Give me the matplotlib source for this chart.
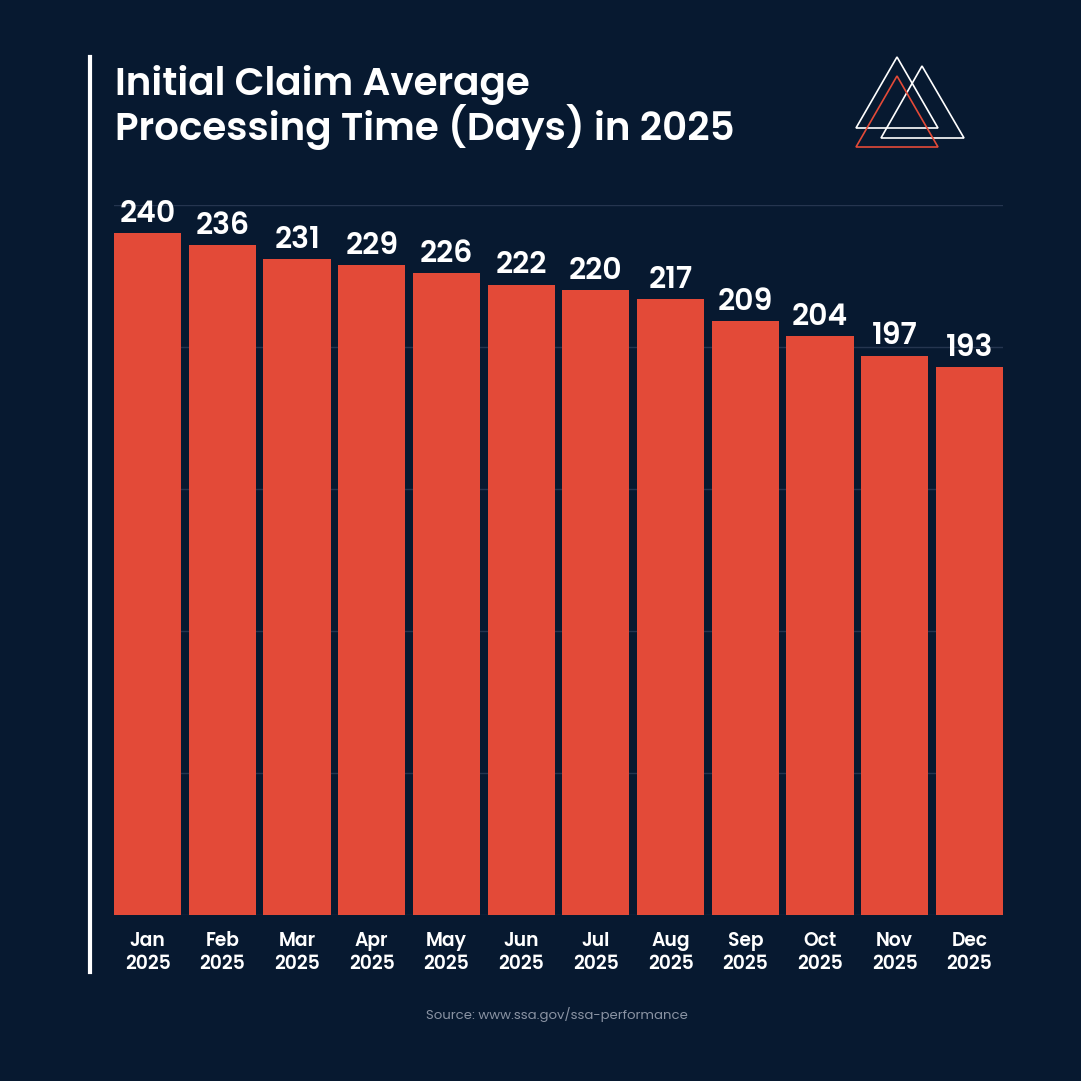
import matplotlib.pyplot as plt
from matplotlib.lines import Line2D
from matplotlib.patches import Polygon

months = ['Jan', 'Feb', 'Mar', 'Apr', 'May', 'Jun', 'Jul', 'Aug', 'Sep', 'Oct', 'Nov', 'Dec']
year = '2025'
days = [240, 236, 231, 229, 226, 222, 220, 217, 209, 204, 197, 193]
yticks = [0, 50, 100, 150, 200, 250]

bg = '#071930'
bar_color = '#E34A38'
grid_color = '#25354f'
font = ['Poppins', 'Inter', 'DejaVu Sans']

W = 1081
fig = plt.figure(figsize=(W / 100, W / 100), dpi=100, facecolor=bg)

def fx(px):
    return px / W

def fy(py):
    return 1 - py / W

# chart area
ax = fig.add_axes([fx(114), fy(915), fx(1003) - fx(114), fy(205) - fy(915)])
ax.set_facecolor(bg)
x = list(range(len(months)))
ax.bar(x, days, width=0.9, color=bar_color, zorder=3)
ax.set_xlim(-0.45, len(months) - 0.55)
ax.set_ylim(0, 250)
ax.set_yticks(yticks)
ax.yaxis.grid(True, color=grid_color, linewidth=1)
ax.set_axisbelow(True)
ax.tick_params(axis='y', left=False, labelleft=False)
ax.tick_params(axis='x', length=0, pad=12)
ax.set_xticks(x)
ax.set_xticklabels([f'{m}\n{year}' for m in months], color='white', fontsize=13.5,
                   fontweight='semibold', family=font, linespacing=1.3)
for s in ax.spines.values():
    s.set_visible(False)

for xi, v in zip(x, days):
    ax.annotate(str(v), (xi, v), xytext=(0, 8), textcoords='offset points',
                ha='center', va='baseline', color='white', fontsize=21.5,
                fontweight='semibold', family=font)

# left accent line
fig.add_artist(Line2D([fx(90), fx(90)], [fy(57), fy(972)], color='white', linewidth=3))

# title
fig.text(fx(115), fy(95), 'Initial Claim Average', color='white', fontsize=28,
         fontweight='semibold', family=font, va='baseline')
fig.text(fx(115), fy(140), 'Processing Time (Days) in 2025', color='white', fontsize=28,
         fontweight='semibold', family=font, va='baseline')

# logo
tris = [
    ([(897, 57), (856, 128), (938, 128)], 'white'),
    ([(922, 66), (881, 138), (964, 138)], 'white'),
    ([(897, 76), (856, 147), (938, 147)], bar_color),
]
for pts, c in tris:
    fig.add_artist(Polygon([(fx(a), fy(b)) for a, b in pts], closed=True, fill=False,
                           edgecolor=c, linewidth=1.2))

fig.text(fx(557), fy(1015), 'Source: www.ssa.gov/ssa-performance', color='#8a93a3',
         fontsize=9.5, family=font, ha='center', va='center')

fig.savefig('out.png', dpi=100, facecolor=bg)
